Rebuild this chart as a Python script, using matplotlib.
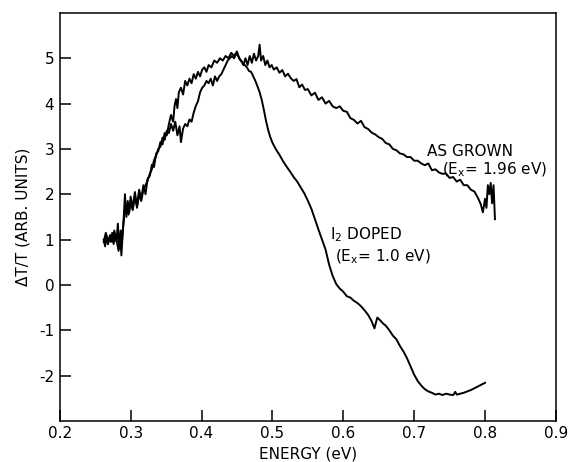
import numpy as np
import matplotlib
matplotlib.use("Agg")
import matplotlib.pyplot as plt

plt.rcParams["font.family"] = "DejaVu Sans"
plt.rcParams["axes.unicode_minus"] = False

# Curva "AS GROWN" (Ex = 1.96 eV)
energia_grown = [
    0.262, 0.264, 0.266, 0.268, 0.270, 0.272, 0.274, 0.276, 0.278, 0.280,
    0.282, 0.284, 0.286, 0.288, 0.290, 0.292, 0.294, 0.296, 0.298, 0.300,
    0.303, 0.306, 0.309, 0.312, 0.315, 0.318, 0.321, 0.324, 0.327, 0.330,
    0.333, 0.336, 0.339, 0.342, 0.345, 0.348, 0.351, 0.354, 0.357, 0.360,
    0.362, 0.364, 0.366, 0.368, 0.371, 0.374, 0.377, 0.380, 0.383, 0.386,
    0.389, 0.392, 0.395, 0.398, 0.401, 0.404, 0.407, 0.410, 0.414, 0.418,
    0.422, 0.426, 0.430, 0.434, 0.438, 0.442, 0.446, 0.450, 0.453, 0.456,
    0.459, 0.462, 0.465, 0.468, 0.471, 0.474, 0.477, 0.480, 0.482, 0.484,
    0.487, 0.490, 0.493, 0.496, 0.499, 0.502, 0.506, 0.510, 0.514, 0.518,
    0.522, 0.526, 0.530, 0.534, 0.538, 0.542, 0.546, 0.550, 0.555, 0.560,
    0.565, 0.570, 0.575, 0.580, 0.585, 0.590, 0.595, 0.600, 0.605, 0.610,
    0.615, 0.620, 0.625, 0.630, 0.635, 0.640, 0.645, 0.650, 0.655, 0.660,
    0.665, 0.670, 0.675, 0.680, 0.685, 0.690, 0.695, 0.700, 0.705, 0.710,
    0.715, 0.720, 0.725, 0.730, 0.735, 0.740, 0.745, 0.750, 0.755, 0.760,
    0.765, 0.770, 0.775, 0.780, 0.785, 0.790, 0.794, 0.797, 0.800, 0.802,
    0.804, 0.806, 0.808, 0.810, 0.812, 0.814,
]
dt_grown = [
    1.00, 0.85, 1.10, 0.90, 1.05, 0.95, 1.15, 0.90, 1.10, 0.95,
    1.35, 0.80, 1.20, 1.00, 1.40, 2.00, 1.50, 1.85, 1.60, 1.95,
    1.70, 2.05, 1.75, 2.10, 1.90, 2.20, 2.00, 2.35, 2.40, 2.65,
    2.60, 2.90, 2.95, 3.15, 3.10, 3.35, 3.30, 3.55, 3.75, 3.60,
    3.95, 4.10, 3.90, 4.25, 4.35, 4.20, 4.50, 4.40, 4.55, 4.45,
    4.65, 4.55, 4.70, 4.60, 4.75, 4.80, 4.70, 4.85, 4.80, 4.95,
    4.90, 5.00, 4.95, 5.05, 5.00, 5.12, 5.05, 5.15, 5.00, 4.95,
    4.85, 5.00, 4.85, 5.05, 4.90, 5.10, 4.95, 5.05, 5.30, 4.95,
    5.05, 4.85, 4.95, 4.80, 4.85, 4.75, 4.80, 4.68, 4.74, 4.60,
    4.66, 4.56, 4.50, 4.54, 4.36, 4.42, 4.30, 4.32, 4.18, 4.24,
    4.08, 4.14, 4.00, 4.06, 3.94, 3.90, 3.94, 3.84, 3.82, 3.68,
    3.64, 3.56, 3.62, 3.48, 3.44, 3.36, 3.32, 3.26, 3.22, 3.13,
    3.10, 3.00, 2.97, 2.90, 2.88, 2.82, 2.82, 2.74, 2.74, 2.68,
    2.64, 2.68, 2.53, 2.55, 2.48, 2.45, 2.46, 2.36, 2.38, 2.28,
    2.32, 2.20, 2.20, 2.10, 2.06, 1.92, 1.78, 1.60, 1.90, 1.70,
    2.20, 2.00, 2.25, 1.80, 2.20, 1.45,
]

# Curva "I2 DOPED" (Ex = 1.0 eV)
energia_dopado = [
    0.262, 0.265, 0.268, 0.271, 0.274, 0.277, 0.280, 0.283, 0.285, 0.287,
    0.289, 0.291, 0.294, 0.297, 0.300, 0.303, 0.306, 0.309, 0.312, 0.315,
    0.318, 0.321, 0.324, 0.327, 0.330, 0.333, 0.336, 0.339, 0.342, 0.345,
    0.348, 0.351, 0.354, 0.357, 0.360, 0.363, 0.366, 0.369, 0.371, 0.374,
    0.377, 0.380, 0.383, 0.386, 0.389, 0.392, 0.395, 0.398, 0.401, 0.404,
    0.407, 0.410, 0.413, 0.416, 0.419, 0.422, 0.425, 0.428, 0.431, 0.434,
    0.437, 0.440, 0.443, 0.446, 0.449, 0.452, 0.455, 0.458, 0.461, 0.464,
    0.467, 0.470, 0.473, 0.476, 0.479, 0.482, 0.485, 0.488, 0.491, 0.494,
    0.497, 0.500, 0.505, 0.510, 0.515, 0.520, 0.525, 0.530, 0.535, 0.540,
    0.545, 0.550, 0.555, 0.560, 0.565, 0.570, 0.575, 0.580, 0.585, 0.590,
    0.595, 0.600, 0.605, 0.610, 0.615, 0.620, 0.625, 0.630, 0.635, 0.640,
    0.644, 0.648, 0.652, 0.656, 0.660, 0.665, 0.670, 0.675, 0.680, 0.685,
    0.690, 0.695, 0.700, 0.705, 0.710, 0.715, 0.720, 0.725, 0.730, 0.735,
    0.740, 0.745, 0.750, 0.755, 0.758, 0.760, 0.765, 0.770, 0.775, 0.780,
    0.785, 0.790, 0.795, 0.800,
]
dt_dopado = [
    0.95, 1.15, 0.90, 1.10, 0.95, 1.20, 1.00, 0.75, 1.10, 0.65,
    1.20, 1.55, 1.70, 1.55, 1.80, 1.65, 1.95, 1.70, 2.00, 1.85,
    2.10, 2.20, 2.30, 2.45, 2.55, 2.75, 2.85, 3.00, 3.05, 3.25,
    3.20, 3.40, 3.35, 3.55, 3.40, 3.60, 3.30, 3.50, 3.15, 3.45,
    3.55, 3.50, 3.65, 3.60, 3.80, 3.95, 4.05, 4.25, 4.35, 4.40,
    4.50, 4.45, 4.55, 4.40, 4.60, 4.50, 4.60, 4.65, 4.75, 4.85,
    4.95, 5.00, 5.05, 5.00, 5.10, 5.05, 4.95, 4.90, 4.85, 4.80,
    4.72, 4.70, 4.60, 4.50, 4.38, 4.25, 4.08, 3.86, 3.62, 3.42,
    3.26, 3.14, 2.99, 2.87, 2.73, 2.61, 2.50, 2.38, 2.28, 2.15,
    2.02, 1.86, 1.68, 1.45, 1.22, 1.00, 0.78, 0.45, 0.20, 0.02,
    -0.08, -0.15, -0.25, -0.28, -0.35, -0.40, -0.47, -0.56, -0.66, -0.80,
    -0.96, -0.72, -0.78, -0.85, -0.90, -1.00, -1.12, -1.20, -1.35, -1.47,
    -1.62, -1.80, -1.98, -2.12, -2.22, -2.30, -2.35, -2.38, -2.42, -2.40,
    -2.43, -2.40, -2.42, -2.43, -2.36, -2.42, -2.40, -2.38, -2.35, -2.32,
    -2.28, -2.24, -2.20, -2.16,
]

x_ticks = [0.2, 0.3, 0.4, 0.5, 0.6, 0.7, 0.8, 0.9]
y_ticks = [-2, -1, 0, 1, 2, 3, 4, 5]

fig = plt.figure(figsize=(5.69, 4.62), dpi=100)
ax = fig.add_axes([0.105, 0.089, 0.872, 0.883])

ax.plot(energia_grown, dt_grown, color="black", lw=1.4)
ax.plot(energia_dopado, dt_dopado, color="black", lw=1.4)

ax.set_xlim(0.2, 0.9)
ax.set_ylim(-3, 6)
ax.set_xticks(x_ticks)
ax.set_xticklabels([f"{v:.1f}" for v in x_ticks])
ax.set_yticks(y_ticks)
ax.set_yticklabels([str(v) for v in y_ticks])
ax.tick_params(direction="in", length=8, width=1.1, labelsize=11, pad=4)
for s in ax.spines.values():
    s.set_linewidth(1.1)

ax.set_xlabel("ENERGY (eV)", fontsize=11, labelpad=4)
ax.set_ylabel("ΔT/T (ARB. UNITS)", fontsize=11, labelpad=6)

# Etiquetas de las curvas
ax.text(0.718, 2.95, "AS GROWN", fontsize=11, va="center", ha="left")
ax.text(0.739, 2.53, r"(E$_{\rm x}$= 1.96 eV)", fontsize=11, va="center", ha="left")
ax.text(0.581, 1.11, r"I$_{2}$ DOPED", fontsize=11, va="center", ha="left")
ax.text(0.588, 0.62, r"(E$_{\rm x}$= 1.0 eV)", fontsize=11, va="center", ha="left")

fig.savefig("out.png", dpi=100)
